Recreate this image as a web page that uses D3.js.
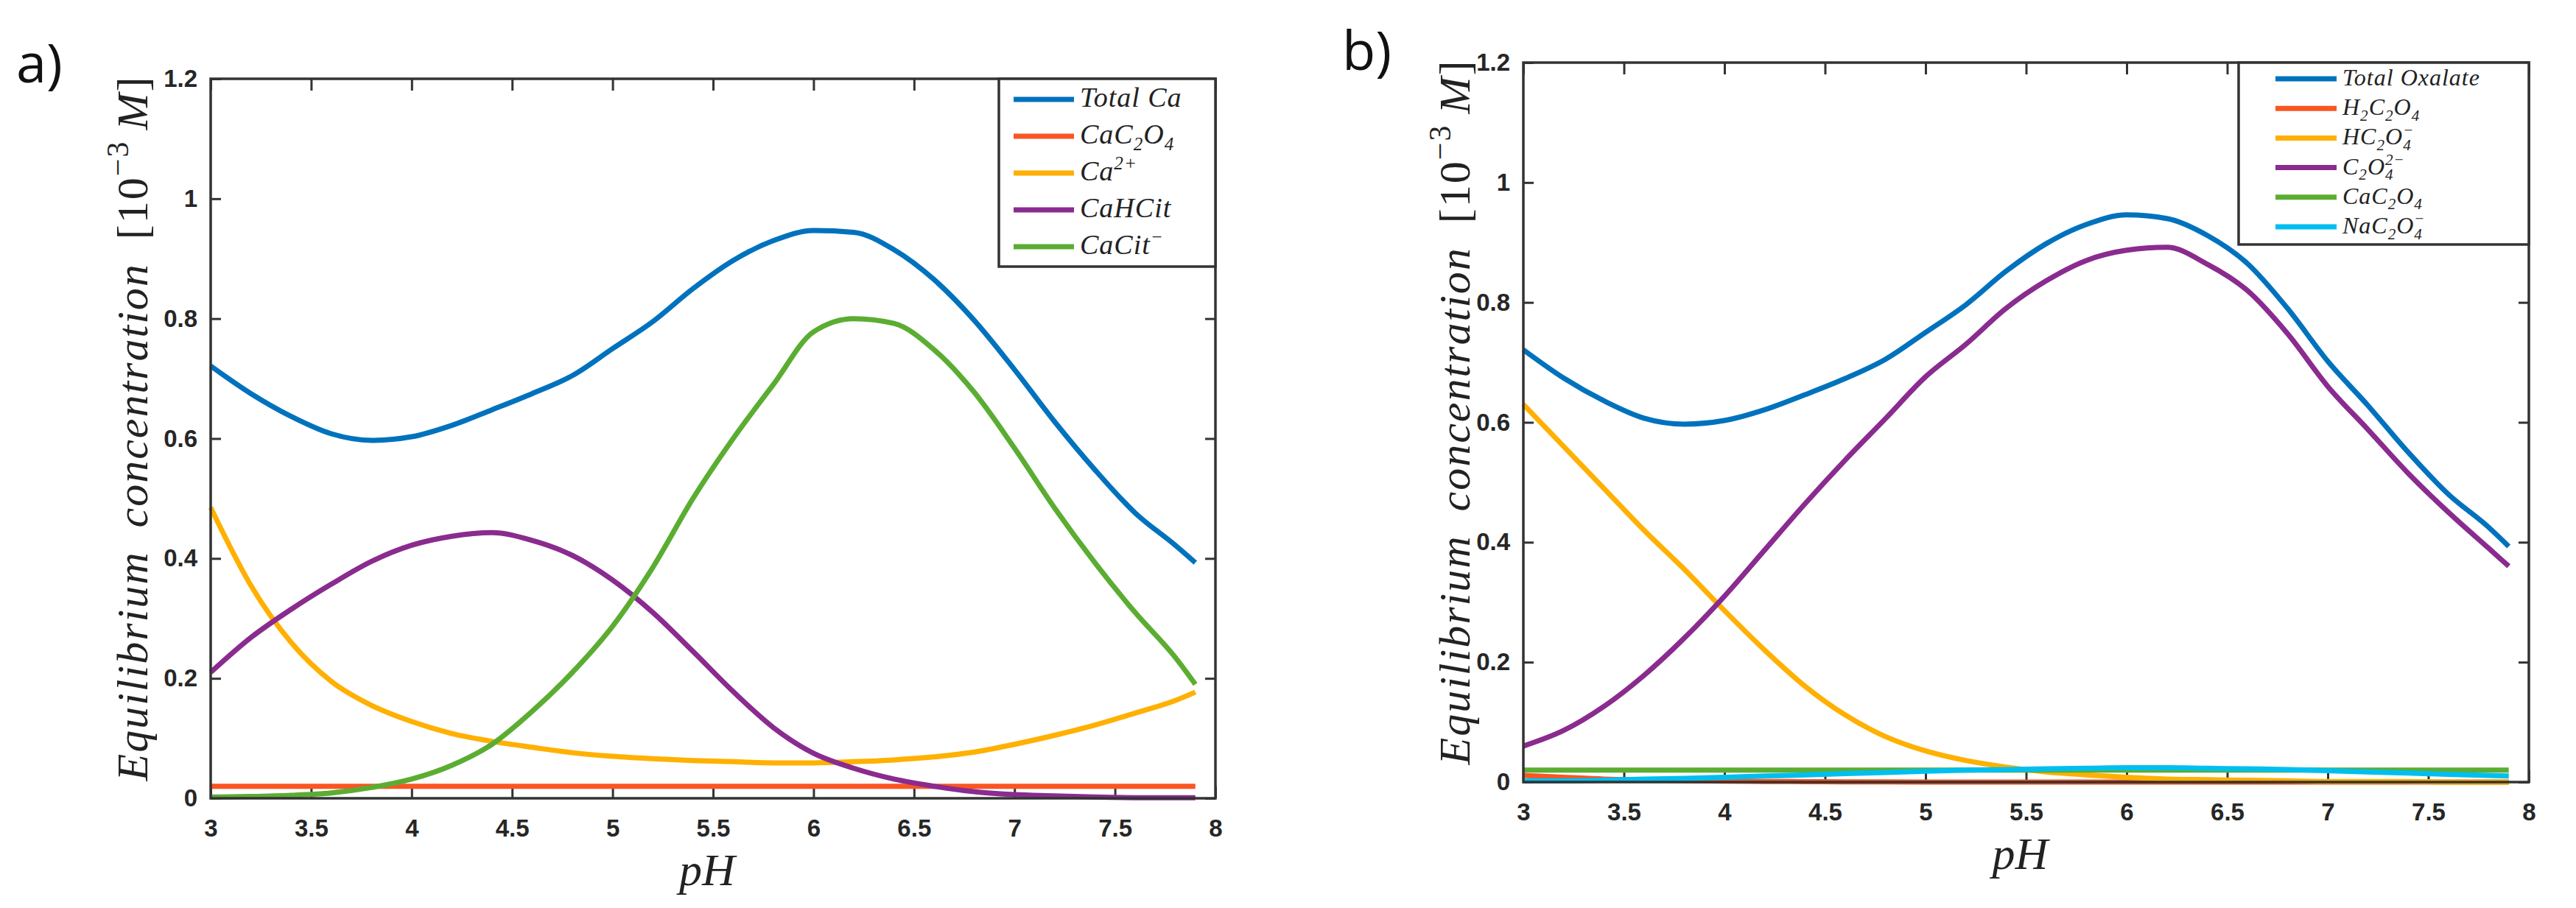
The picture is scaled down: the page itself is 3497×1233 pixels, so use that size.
<!DOCTYPE html>
<html>
<head>
<meta charset="utf-8">
<script src="https://cdn.jsdelivr.net/npm/d3@7"></script>
<style>
  body { margin: 0; background: #fff; }
</style>
</head>
<body>
<div id="plot"></div>
<script>
// pH grid shared by both panels
const pH = [3.0, 3.2, 3.4, 3.6, 3.8, 4.0, 4.2, 4.4, 4.6, 4.8, 5.0, 5.2, 5.4, 5.6, 5.8, 6.0, 6.2, 6.4, 6.6, 6.8, 7.0, 7.2, 7.4, 7.6, 7.8, 7.9];

// panel a) calcium species, 10^-3 M
const totalCa = [0.721, 0.675, 0.637, 0.608, 0.597, 0.603, 0.622, 0.648, 0.675, 0.705, 0.750, 0.795, 0.850, 0.897, 0.930, 0.947, 0.944, 0.915, 0.865, 0.797, 0.715, 0.628, 0.548, 0.476, 0.422, 0.393];
const caC2O4A = [0.02, 0.02, 0.02, 0.02, 0.02, 0.02, 0.02, 0.02, 0.02, 0.02, 0.02, 0.02, 0.02, 0.02, 0.02, 0.02, 0.02, 0.02, 0.02, 0.02, 0.02, 0.02, 0.02, 0.02, 0.02, 0.02];
const ca2plus = [0.485, 0.355, 0.260, 0.195, 0.155, 0.128, 0.108, 0.095, 0.085, 0.076, 0.070, 0.066, 0.063, 0.061, 0.059, 0.059, 0.061, 0.064, 0.069, 0.077, 0.090, 0.105, 0.122, 0.142, 0.163, 0.177];
const caHCit = [0.210, 0.268, 0.315, 0.357, 0.395, 0.422, 0.437, 0.443, 0.430, 0.405, 0.364, 0.310, 0.245, 0.178, 0.118, 0.075, 0.050, 0.032, 0.020, 0.011, 0.006, 0.004, 0.002, 0.001, 0.001, 0.001];
const caCit = [0.002, 0.003, 0.005, 0.009, 0.018, 0.032, 0.055, 0.090, 0.145, 0.210, 0.287, 0.385, 0.500, 0.600, 0.690, 0.778, 0.800, 0.792, 0.748, 0.677, 0.584, 0.484, 0.393, 0.310, 0.235, 0.190];

// panel b) oxalate species, 10^-3 M
const totalOx = [0.721, 0.674, 0.636, 0.607, 0.597, 0.603, 0.621, 0.646, 0.673, 0.705, 0.750, 0.796, 0.852, 0.898, 0.930, 0.946, 0.940, 0.912, 0.865, 0.790, 0.702, 0.628, 0.550, 0.480, 0.425, 0.393];
const h2C2O4 = [0.011, 0.008, 0.005, 0.0035, 0.0025, 0.0015, 0.001, 0.0007, 0.0004, 0.0002, 0.0001, 0, 0, 0, 0, 0, 0, 0, 0, 0, 0, 0, 0, 0, 0, 0];
const hC2O4 = [0.630, 0.560, 0.490, 0.420, 0.355, 0.286, 0.220, 0.160, 0.112, 0.076, 0.052, 0.036, 0.025, 0.017, 0.012, 0.008, 0.005, 0.004, 0.003, 0.002, 0.001, 0.001, 0.001, 0, 0, 0];
const c2O4 = [0.060, 0.086, 0.126, 0.178, 0.240, 0.310, 0.387, 0.464, 0.537, 0.606, 0.676, 0.730, 0.790, 0.836, 0.870, 0.887, 0.892, 0.864, 0.820, 0.748, 0.660, 0.588, 0.515, 0.450, 0.390, 0.360];
const caC2O4B = [0.02, 0.02, 0.02, 0.02, 0.02, 0.02, 0.02, 0.02, 0.02, 0.02, 0.02, 0.02, 0.02, 0.02, 0.02, 0.02, 0.02, 0.02, 0.02, 0.02, 0.02, 0.02, 0.02, 0.02, 0.02, 0.02];
const naC2O4 = [0.002, 0.002, 0.003, 0.005, 0.006, 0.008, 0.010, 0.012, 0.014, 0.016, 0.018, 0.020, 0.021, 0.022, 0.023, 0.024, 0.024, 0.023, 0.022, 0.021, 0.019, 0.017, 0.015, 0.013, 0.011, 0.010];

// legend labels: [text, "sub"|"sup", stack over previous subscript]
const labelsA = [
  [["Total Ca"]],
  [["CaC"], ["2", "sub"], ["O"], ["4", "sub"]],
  [["Ca"], ["2+", "sup"]],
  [["CaHCit"]],
  [["CaCit"], ["\u2212", "sup"]]
];
const labelsB = [
  [["Total Oxalate"]],
  [["H"], ["2", "sub"], ["C"], ["2", "sub"], ["O"], ["4", "sub"]],
  [["HC"], ["2", "sub"], ["O"], ["4", "sub"], ["\u2212", "sup", true]],
  [["C"], ["2", "sub"], ["O"], ["4", "sub"], ["2\u2212", "sup", true]],
  [["CaC"], ["2", "sub"], ["O"], ["4", "sub"]],
  [["NaC"], ["2", "sub"], ["O"], ["4", "sub"], ["\u2212", "sup", true]]
];

const xTicks = [3, 3.5, 4, 4.5, 5, 5.5, 6, 6.5, 7, 7.5, 8];
const yTicks = [0, 0.2, 0.4, 0.6, 0.8, 1, 1.2];

const colors = ["#0072BD", "#FA5522", "#FFB000", "#8A2B8F", "#5BAD32", "#00BFF0"];
const colorsA = [colors[0], colors[1], colors[2], colors[3], colors[4]];
const colorsB = [colors[0], colors[1], colors[2], colors[3], colors[4], colors[5]];

const width = 3497;
const height = 1233;
const axisColor = "#333";
const mathFont = "'Liberation Serif', 'Times New Roman', serif";
const tickFont = "'Liberation Sans', Arial, sans-serif";

const svg = d3.select("#plot")
  .append("svg")
  .attr("width", width)
  .attr("height", height);

const panels = [
  {
    letter: "a)", letterX: 22, letterY: 112,
    left: 286, right: 1650, top: 107, bottom: 1084, yLabelX: 200,
    series: [totalCa, caC2O4A, ca2plus, caHCit, caCit], colors: colorsA, labels: labelsA,
    legend: { x: 1356, w: 294, h: 255, first: 28, step: 50, line0: 20, line1: 102, text: 110, font: 38, base: 10 }
  },
  {
    letter: "b)", letterX: 1822, letterY: 95,
    left: 2068, right: 3433, top: 85, bottom: 1062, yLabelX: 1995,
    series: [totalOx, h2C2O4, hC2O4, c2O4, caC2O4B, naC2O4], colors: colorsB, labels: labelsB,
    legend: { x: 3039, w: 394, h: 247, first: 22, step: 40.2, line0: 50, line1: 133, text: 141, font: 32, base: 9 }
  }
];

// write a label with sub/superscripts as tspans
function richText(textSel, parts, size) {
  let shift = 0;
  let lastW = 0;
  parts.forEach(([t, mode, stack]) => {
    const target = mode === "sub" ? 0.24 * size : mode === "sup" ? -0.4 * size : 0;
    const ts = textSel.append("tspan")
      .attr("font-size", mode ? size * 0.66 : size)
      .attr("dy", target - shift)
      .text(t);
    if (stack) ts.attr("dx", -lastW);
    shift = target;
    lastW = ts.node().getComputedTextLength();
  });
}

panels.forEach(p => {
  const x = d3.scaleLinear().domain([3, 8]).range([p.left, p.right]);
  const y = d3.scaleLinear().domain([0, 1.2]).range([p.bottom, p.top]);
  const g = svg.append("g");

  // panel letter
  svg.append("text")
    .attr("x", p.letterX)
    .attr("y", p.letterY)
    .style("font-family", "'Open Sans', sans-serif")
    .style("font-size", "74px")
    .style("fill", "#111")
    .text(p.letter);

  // axes with inward ticks on all four sides
  const styleAxis = sel => {
    sel.select(".domain").remove();
    sel.selectAll(".tick line").attr("stroke", axisColor).attr("stroke-width", 3);
    sel.selectAll(".tick text")
      .style("font-family", tickFont)
      .style("font-size", "33px")
      .style("font-weight", "bold")
      .style("fill", "#262626");
  };

  g.append("g")
    .attr("transform", `translate(0,${p.bottom})`)
    .call(d3.axisBottom(x).tickValues(xTicks).tickFormat(d => String(d)).tickSizeInner(-16).tickSizeOuter(0).tickPadding(29))
    .call(styleAxis);
  g.append("g")
    .attr("transform", `translate(0,${p.top})`)
    .call(d3.axisTop(x).tickValues(xTicks).tickFormat("").tickSizeInner(-16).tickSizeOuter(0))
    .call(styleAxis);
  g.append("g")
    .attr("transform", `translate(${p.left},0)`)
    .call(d3.axisLeft(y).tickValues(yTicks).tickFormat(d => String(d)).tickSizeInner(-14).tickSizeOuter(0).tickPadding(18))
    .call(styleAxis);
  g.append("g")
    .attr("transform", `translate(${p.right},0)`)
    .call(d3.axisRight(y).tickValues(yTicks).tickFormat("").tickSizeInner(-14).tickSizeOuter(0))
    .call(styleAxis);

  // data lines
  const line = d3.line()
    .x((d, i) => x(pH[i]))
    .y(d => y(d))
    .curve(d3.curveMonotoneX);

  g.selectAll("path.series")
    .data(p.series)
    .enter().append("path")
    .attr("class", "series")
    .attr("d", line)
    .attr("fill", "none")
    .attr("stroke", (d, i) => p.colors[i])
    .attr("stroke-width", 7)
    .attr("stroke-linejoin", "round");

  // box
  g.append("rect")
    .attr("x", p.left)
    .attr("y", p.top)
    .attr("width", p.right - p.left)
    .attr("height", p.bottom - p.top)
    .attr("fill", "none")
    .attr("stroke", axisColor)
    .attr("stroke-width", 3.5);

  // x label
  g.append("text")
    .attr("x", (p.left + p.right) / 2 - 8)
    .attr("y", p.bottom + 118)
    .attr("text-anchor", "middle")
    .style("font-family", mathFont)
    .style("font-style", "italic")
    .style("font-size", "62px")
    .style("fill", "#222")
    .text("pH");

  // y label
  const yl = g.append("text")
    .attr("transform", `translate(${p.yLabelX},${(p.top + p.bottom) / 2 - 14}) rotate(-90)`)
    .attr("text-anchor", "middle")
    .style("font-family", mathFont)
    .style("font-size", "60px")
    .style("letter-spacing", "2px")
    .style("fill", "#222");
  yl.append("tspan").style("font-style", "italic").text("Equilibrium\u2002concentration\u2002");
  yl.append("tspan").text("[10");
  yl.append("tspan").attr("font-size", 42).attr("dy", -26).text("\u22123");
  yl.append("tspan").style("font-style", "italic").attr("dy", 26).text("\u2009M");
  yl.append("tspan").text("]");

  // legend
  const L = p.legend;
  const lg = g.append("g").attr("transform", `translate(${L.x},${p.top})`);
  lg.append("rect")
    .attr("width", L.w)
    .attr("height", L.h)
    .attr("fill", "#fff")
    .attr("stroke", axisColor)
    .attr("stroke-width", 3.5);

  p.labels.forEach((parts, i) => {
    const ry = L.first + i * L.step;
    lg.append("line")
      .attr("x1", L.line0)
      .attr("x2", L.line1)
      .attr("y1", ry)
      .attr("y2", ry)
      .attr("stroke", p.colors[i])
      .attr("stroke-width", 7);
    const t = lg.append("text")
      .attr("x", L.text)
      .attr("y", ry + L.base)
      .style("font-family", mathFont)
      .style("font-style", "italic")
      .style("letter-spacing", "1px")
      .style("fill", "#222");
    richText(t, parts, L.font);
  });
});
</script>
</body>
</html>
